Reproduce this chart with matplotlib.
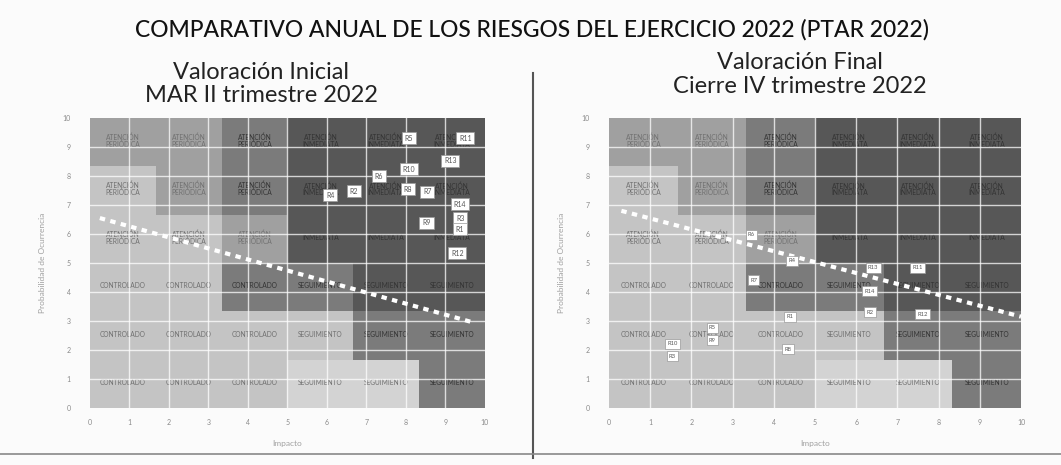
import numpy as np
import matplotlib
matplotlib.use("Agg")
import matplotlib.pyplot as plt

plt.rcParams['font.family'] = ['Lato', 'DejaVu Sans']

# zone names per cell, rows listed from top (prob 10) to bottom (prob 0)
zone_labels = [
    ["ATENCIÓN\nPERIÓDICA"] * 3 + ["ATENCIÓN\nINMEDIATA"] * 3,
    ["ATENCIÓN\nPERIÓDICA"] * 3 + ["ATENCIÓN\nINMEDIATA"] * 3,
    ["ATENCIÓN\nPERIÓDICA"] * 3 + ["INMEDIATA"] * 3,
    ["CONTROLADO"] * 3 + ["SEGUIMIENTO"] * 3,
    ["CONTROLADO"] * 3 + ["SEGUIMIENTO"] * 3,
    ["CONTROLADO"] * 3 + ["SEGUIMIENTO"] * 3,
]

# shade level per cell (0 light ... 4 dark), rows from top
shade_inicial = [
    [2, 2, 3, 4, 4, 4],
    [1, 2, 3, 4, 4, 4],
    [1, 1, 2, 4, 4, 4],
    [1, 1, 3, 3, 4, 4],
    [1, 1, 1, 1, 3, 3],
    [1, 1, 1, 0, 0, 3],
]
shade_final = [
    [2, 2, 3, 4, 4, 4],
    [1, 2, 3, 4, 4, 4],
    [1, 1, 2, 4, 4, 4],
    [1, 1, 3, 3, 4, 4],
    [1, 1, 1, 1, 3, 3],
    [1, 1, 1, 0, 0, 3],
]
grays = ['#d3d3d3', '#c4c4c4', '#a0a0a0', '#7b7b7b', '#575757']

# risks: (impacto, probabilidad) where the label sits
riesgos_ini = ["R5", "R11", "R13", "R10", "R6", "R2", "R4", "R8", "R7",
               "R14", "R3", "R1", "R9", "R12"]
impacto_ini = [8.07, 9.50, 9.12, 8.07, 7.31, 6.68, 6.08, 8.04, 8.54,
               9.37, 9.37, 9.37, 8.52, 9.30]
prob_ini = [9.31, 9.31, 8.52, 8.24, 8.00, 7.48, 7.34, 7.55, 7.45,
            7.03, 6.55, 6.17, 6.38, 5.34]

riesgos_fin = ["R6", "R4", "R7", "R13", "R11", "R14", "R2", "R12", "R1",
               "R5", "R9", "R10", "R3", "R8"]
impacto_fin = [3.46, 4.44, 3.51, 6.41, 7.49, 6.32, 6.34, 7.61, 4.39,
               2.51, 2.51, 1.54, 1.54, 4.34]
prob_fin = [5.97, 5.07, 4.41, 4.83, 4.83, 4.03, 3.31, 3.24, 3.14,
            2.76, 2.34, 2.21, 1.79, 2.03]

# dashed trend line ends
linea_ini_x = [0.25, 9.7]
linea_ini_y = [6.55, 2.95]
linea_fin_x = [0.3, 10.0]
linea_fin_y = [6.8, 3.15]

ticks = list(range(0, 11))


def draw_matrix(ax, shade, nombres, xs, ys, lx, ly, fs_lab):
    n = 6
    w = 10 / n
    for r in range(n):
        for c in range(n):
            y0 = 10 - (r + 1) * w
            ax.add_patch(plt.Rectangle((c * w, y0), w, w, facecolor=grays[shade[r][c]],
                                       edgecolor='none', zorder=0))
            txt_col = '#333333' if shade[r][c] >= 3 else '#707070'
            ax.text(c * w + w / 2, y0 + w / 2 + 0.05, zone_labels[r][c], ha='center', va='center',
                    fontsize=4.8, color=txt_col, linespacing=0.9, zorder=1)
    for t in ticks[1:-1]:
        ax.axvline(t, color='white', lw=1.0, alpha=0.75, zorder=2)
        ax.axhline(t, color='white', lw=1.0, alpha=0.75, zorder=2)
    ax.plot(lx, ly, color='white', lw=3, linestyle=(0, (1.3, 1.3)), zorder=3)
    for name, x, y in zip(nombres, xs, ys):
        ax.text(x, y, name, ha='center', va='center', fontsize=fs_lab, color='#555555', zorder=5,
                bbox=dict(boxstyle='square,pad=0.4', facecolor='white', edgecolor='#999999', lw=0.5))
    ax.set_xlim(0, 10)
    ax.set_ylim(0, 10)
    ax.set_xticks(ticks)
    ax.set_yticks(ticks)
    ax.tick_params(length=0, labelsize=5, colors='#8a8a8a', pad=8)
    ax.tick_params(axis='y', pad=14)
    for s in ax.spines.values():
        s.set_visible(False)
    ax.set_xlabel("Impacto", fontsize=6, color='#a0a0a0', labelpad=10)
    ax.set_ylabel("Probabilidad de Ocurrencia", fontsize=6, color='#a0a0a0', labelpad=12)


fig = plt.figure(figsize=(10.61, 4.65), dpi=100)
fig.patch.set_facecolor('#fbfbfb')

ax1 = fig.add_axes([0.0848, 0.1226, 0.3723, 0.6236])
ax2 = fig.add_axes([0.574, 0.1226, 0.3883, 0.6236])

draw_matrix(ax1, shade_inicial, riesgos_ini, impacto_ini, prob_ini, linea_ini_x, linea_ini_y, 5.0)
draw_matrix(ax2, shade_final, riesgos_fin, impacto_fin, prob_fin, linea_fin_x, linea_fin_y, 4.2)

fig.text(532 / 1061, 1 - 30 / 465, "COMPARATIVO ANUAL DE LOS RIESGOS DEL EJERCICIO 2022 (PTAR 2022)",
         ha='center', va='center', fontsize=16.5, color='#111111', fontweight='medium')
fig.text(261 / 1061, 1 - 84 / 465, "Valoración Inicial\nMAR II trimestre 2022",
         ha='center', va='center', fontsize=17, color='#222222', linespacing=1.12)
fig.text(800 / 1061, 1 - 74.5 / 465, "Valoración Final\nCierre IV trimestre 2022",
         ha='center', va='center', fontsize=17, color='#222222', linespacing=1.12)

# separator and bottom rule
fig.add_artist(plt.Line2D([533 / 1061, 533 / 1061], [1 - 73 / 465, 1 - 458 / 465],
                          color='#555555', lw=1.5))
fig.add_artist(plt.Line2D([0.0, 1.0], [1 - 454 / 465, 1 - 454 / 465], color='#888888', lw=1.2))

fig.savefig("out.png", dpi=100, facecolor=fig.get_facecolor())
